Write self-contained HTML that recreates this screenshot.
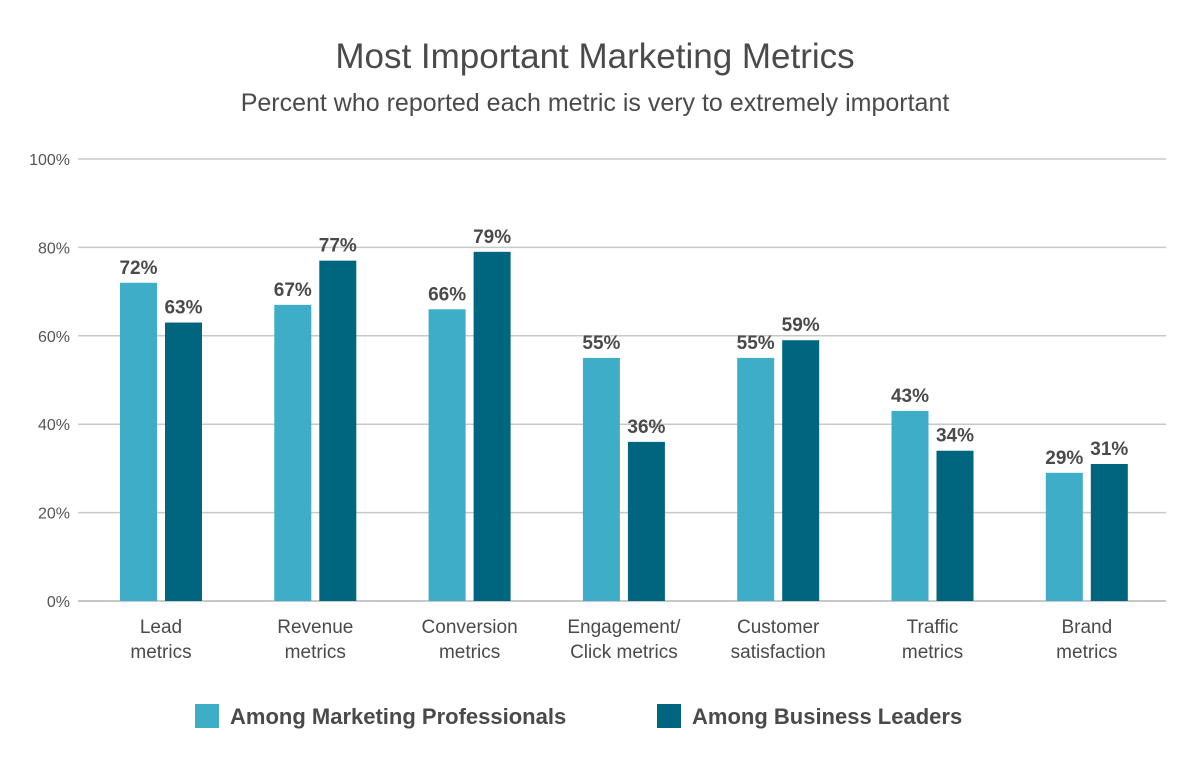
<!DOCTYPE html>
<html><head><meta charset="utf-8">
<style>
body{margin:0;background:#fff;font-family:"Liberation Sans",sans-serif;}
svg{display:block}
</style></head>
<body>
<svg id="chart" width="1190" height="781" viewBox="0 0 1190 781" xmlns="http://www.w3.org/2000/svg">
<text x="595" y="68" text-anchor="middle" font-size="35" fill="#4a4a4a">Most Important Marketing Metrics</text>
<text x="595" y="111" text-anchor="middle" font-size="25" fill="#4a4a4a">Percent who reported each metric is very to extremely important</text>
<g id="grid"></g><g id="bars"></g><g id="xlabels"></g>
<g>
<rect x="195" y="704" width="24" height="24" fill="#3eaec8"/>
<text x="230" y="724" font-size="22" font-weight="bold" fill="#4a4a4a">Among Marketing Professionals</text>
<rect x="657" y="704" width="24" height="24" fill="#006680"/>
<text x="692" y="724" font-size="22" font-weight="bold" fill="#4a4a4a">Among Business Leaders</text>
</g>
</svg>
<script>
const categories=[["Lead","metrics"],["Revenue","metrics"],["Conversion","metrics"],["Engagement/","Click metrics"],["Customer","satisfaction"],["Traffic","metrics"],["Brand","metrics"]];
const professionals=[72,67,66,55,55,43,29];
const leaders=[63,77,79,36,59,34,31];
const ticks=[0,20,40,60,80,100];
const NS="http://www.w3.org/2000/svg";
const y=v=>601-v*4.42;
const xc=i=>161+i*154.3;
function mk(tag,attrs,parent,txt){const e=document.createElementNS(NS,tag);for(const k in attrs)e.setAttribute(k,attrs[k]);if(txt!==undefined)e.textContent=txt;parent.appendChild(e);return e;}
const grid=document.getElementById('grid'),bars=document.getElementById('bars'),xl=document.getElementById('xlabels');
ticks.forEach(t=>{
 const l=mk('line',{x1:78,x2:1166,y1:y(t),y2:y(t),stroke:'#c8c8c8','stroke-width':t===0?2:1.5},grid);
 
 
 const tx=mk('text',{x:70,y:y(t)+6,'text-anchor':'end','font-size':16,fill:'#555'},grid,t+'%');
 
 
});
categories.forEach((c,i)=>{
 const cx=xc(i);
 [[professionals[i],'#3eaec8',cx-41,'professionals'],[leaders[i],'#006680',cx+4,'leaders']].forEach(([v,col,x0,s])=>{
  const r=mk('rect',{x:x0,y:y(v),width:37,height:601-y(v),fill:col},bars);
  
  
  const t=mk('text',{x:x0+18.5,y:y(v)-9,'text-anchor':'middle','font-size':19,'font-weight':'bold',fill:'#4a4a4a'},bars,v+'%');
  
  
 });
 c.forEach((ln,j)=>{
  const t=mk('text',{x:cx,y:633+j*25,'text-anchor':'middle','font-size':19,fill:'#4a4a4a'},xl,ln);
  
  
 });
});
</script>
</body></html>
